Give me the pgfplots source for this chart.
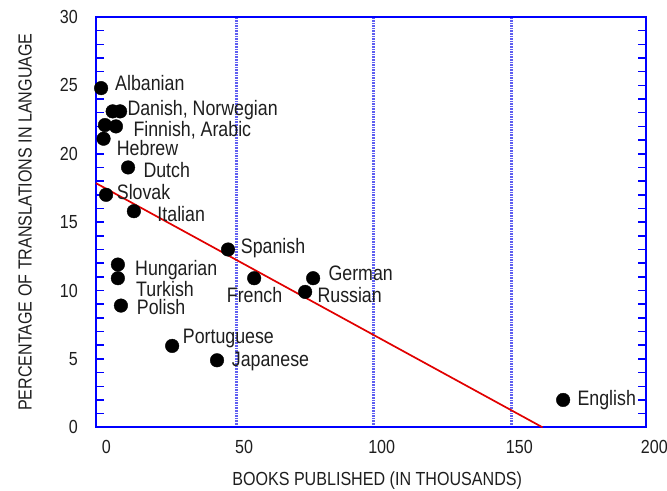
\documentclass[border=0pt]{standalone}
\usepackage{fontspec}
\setmainfont{Liberation Sans}[FakeStretch=0.85]
\usepackage{pgfplots}
\pgfplotsset{compat=1.18}
\definecolor{gridblue}{RGB}{95,95,240}
\definecolor{txt}{RGB}{30,30,30}
\definecolor{fitred}{RGB}{225,0,0}
\begin{document}
\begin{tikzpicture}
\begin{axis}[
  at={(96bp,63.7bp)}, anchor=south west,
  scale only axis, width=550.3bp, height=410.3bp,
  xmin=-0.85, xmax=199, ymin=0, ymax=30,
  clip=false,
  axis line style={draw=blue, line width=2bp},
  xtick={50,100,150}, extra x ticks={0,199}, extra x tick labels={0,200},
  extra x tick style={grid=none},
  xmajorgrids,
  major x grid style={draw=gridblue, line width=3bp, dash pattern=on 1.6bp off 1bp},
  x tick style={draw=none},
  ytick={0,5,...,30}, minor ytick={0,...,30},
  y tick style={draw=blue, line width=1.5bp},
  major tick length=8bp, minor tick length=8bp,
  tick align=inside, ytick pos=both, yticklabel pos=left,
  /pgf/number format/assume math mode=true,
  tick label style={font=\fontsize{19}{22}\selectfont, text=txt, inner sep=0pt},
  xticklabel style={anchor=center, xshift=8bp, yshift=-19.4bp},
  yticklabel style={anchor=east, xshift=-18bp},
  xlabel={BOOKS PUBLISHED (IN THOUSANDS)},
  ylabel={PERCENTAGE OF TRANSLATIONS IN LANGUAGE},
  label style={font=\fontsize{19}{22}\selectfont, text=txt, inner sep=0pt},
  xlabel style={at={(axis description cs:0.5,0)}, anchor=base, xshift=6bp, yshift=-58.4bp},
  ylabel style={at={([xshift=-64.3bp]axis description cs:0,0.5)}, anchor=base},
]
% regression line
\addplot[draw=fitred, line width=1.7bp] coordinates {(-0.85,17.85) (161.3,0)};
% data points
\addplot[only marks, mark=*, mark size=6.8bp, mark options={fill=black, draw=black}] coordinates {
 (1.0,24.8)
 (5.2,23.1) (7.9,23.1)
 (2.4,22.1) (6.4,22.0)
 (1.9,21.1)
 (10.8,19.0)
 (2.8,17.0)
 (12.9,15.8)
 (47.1,13.0)
 (7.1,11.9)
 (7.1,10.9)
 (8.2,8.9)
 (56.6,10.9)
 (78.0,10.9)
 (75.1,9.9)
 (26.8,5.95)
 (43.1,4.9)
 (168.8,2.0)
};
\begin{scope}[every node/.style={anchor=base west, inner sep=0pt, text=txt, font=\fontsize{21}{24}\selectfont}]
\node at (axis cs:6.05,24.66) {Albanian};
\node at (axis cs:10.52,22.83) {Danish, Norwegian};
\node at (axis cs:12.70,21.24) {Finnish, Arabic};
\node at (axis cs:6.67,19.85) {Hebrew};
\node at (axis cs:16.33,18.27) {Dutch};
\node at (axis cs:6.67,16.67) {Slovak};
\node at (axis cs:21.41,15.03) {Italian};
\node at (axis cs:51.71,12.72) {Spanish};
\node at (axis cs:13.31,11.13) {Hungarian};
\node at (axis cs:13.68,9.60) {Turkish};
\node at (axis cs:13.93,8.26) {Polish};
\node at (axis cs:46.62,9.11) {French};
\node at (axis cs:83.53,10.72) {German};
\node at (axis cs:79.53,9.11) {Russian};
\node at (axis cs:30.64,6.14) {Portuguese};
\node at (axis cs:48.44,4.43) {Japanese};
\node at (axis cs:173.97,1.63) {English};
\end{scope}
\end{axis}
\pgfresetboundingbox
\path (0,0) rectangle (667bp,491bp);
\end{tikzpicture}
\end{document}
